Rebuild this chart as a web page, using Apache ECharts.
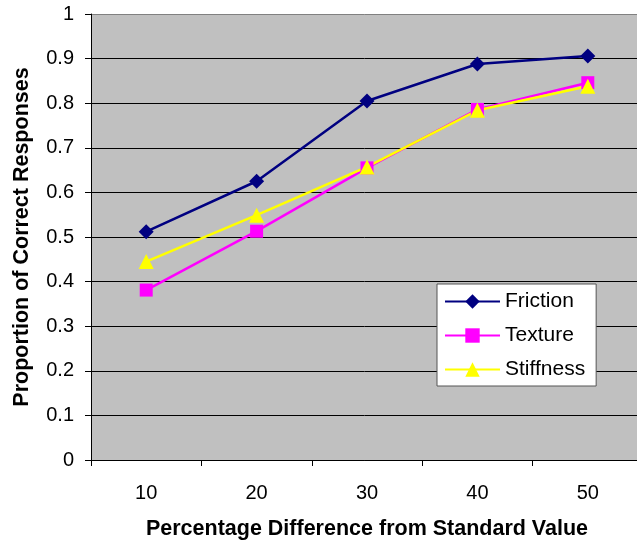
<!DOCTYPE html>
<html>
<head>
<meta charset="utf-8">
<script src="https://cdn.jsdelivr.net/npm/echarts@6/dist/echarts.min.js"></script>
<style>
  html, body { margin: 0; padding: 0; background: #fff; }
  #chart { width: 637px; height: 541px; }
</style>
</head>
<body>
<div id="chart"></div>
<script>
// Percentage difference from the standard value (x categories)
const categories = ['10', '20', '30', '40', '50'];
// Proportion of correct responses per condition
const friction = [0.512, 0.625, 0.805, 0.888, 0.906];
const texture = [0.381, 0.513, 0.655, 0.786, 0.846];
const stiffness = [0.445, 0.549, 0.657, 0.784, 0.838];

const FONT = 'Liberation Sans, Arial, sans-serif';

// One colour per split line; the top border line is grey
const gridColors = [];
for (let i = 0; i < 10; i++) gridColors.push('#000000');
gridColors.push('#808080');

const chart = echarts.init(document.getElementById('chart'), null, { renderer: 'canvas' });

function lineSeries(name, data, color, symbol, size) {
  return {
    name: name,
    type: 'line',
    data: data,
    symbol: symbol,
    symbolSize: size,
    showAllSymbol: true,
    lineStyle: { color: color, width: 2.5 },
    itemStyle: { color: color, borderWidth: 0 },
    emphasis: { disabled: true },
    animation: false
  };
}

chart.setOption({
  animation: false,
  backgroundColor: '#ffffff',
  grid: {
    left: 91,
    top: 14,
    right: -6,
    bottom: 81,
    outerBoundsMode: 'none',
    containLabel: false,
    show: true,
    backgroundColor: '#c0c0c0',
    borderWidth: 0
  },
  legend: {
    orient: 'vertical',
    left: 437,
    top: 284,
    padding: [7, 11, 6, 7],
    itemGap: 13,
    itemWidth: 55,
    itemHeight: 18,
    backgroundColor: '#ffffff',
    borderColor: '#555555',
    borderWidth: 1,
    textStyle: { fontFamily: FONT, fontSize: 21, color: '#000' },
    data: ['Friction', 'Texture', 'Stiffness']
  },
  xAxis: {
    type: 'category',
    data: categories,
    boundaryGap: true,
    name: 'Percentage Difference from Standard Value',
    nameLocation: 'middle',
    nameGap: 58,
    nameTextStyle: { fontFamily: FONT, fontSize: 21.5, fontWeight: 'bold', color: '#000' },
    axisLine: { lineStyle: { color: '#000', width: 1 } },
    axisTick: { show: true, length: 6, inside: false, alignWithLabel: false, lineStyle: { color: '#000' } },
    axisLabel: { fontFamily: FONT, fontSize: 20, color: '#000', margin: 23 },
    splitLine: { show: false }
  },
  yAxis: {
    type: 'value',
    min: 0,
    max: 1,
    interval: 0.1,
    name: 'Proportion of Correct Responses',
    nameLocation: 'middle',
    nameGap: 58,
    nameTextStyle: { fontFamily: FONT, fontSize: 21.5, fontWeight: 'bold', color: '#000' },
    axisLine: { show: true, lineStyle: { color: '#000', width: 1 } },
    axisTick: { show: true, length: 6, lineStyle: { color: '#000' } },
    axisLabel: {
      fontFamily: FONT, fontSize: 20, color: '#000', margin: 17,
      formatter: function (v) { return String(Math.round(v * 10) / 10); }
    },
    splitLine: { show: true, lineStyle: { color: gridColors, width: 1 } }
  },
  series: [
    lineSeries('Friction', friction, '#000080', 'diamond', 15),
    lineSeries('Texture', texture, '#ff00ff', 'rect', 13),
    lineSeries('Stiffness', stiffness, '#ffff00', 'triangle', 15)
  ]
});
</script>
</body>
</html>
